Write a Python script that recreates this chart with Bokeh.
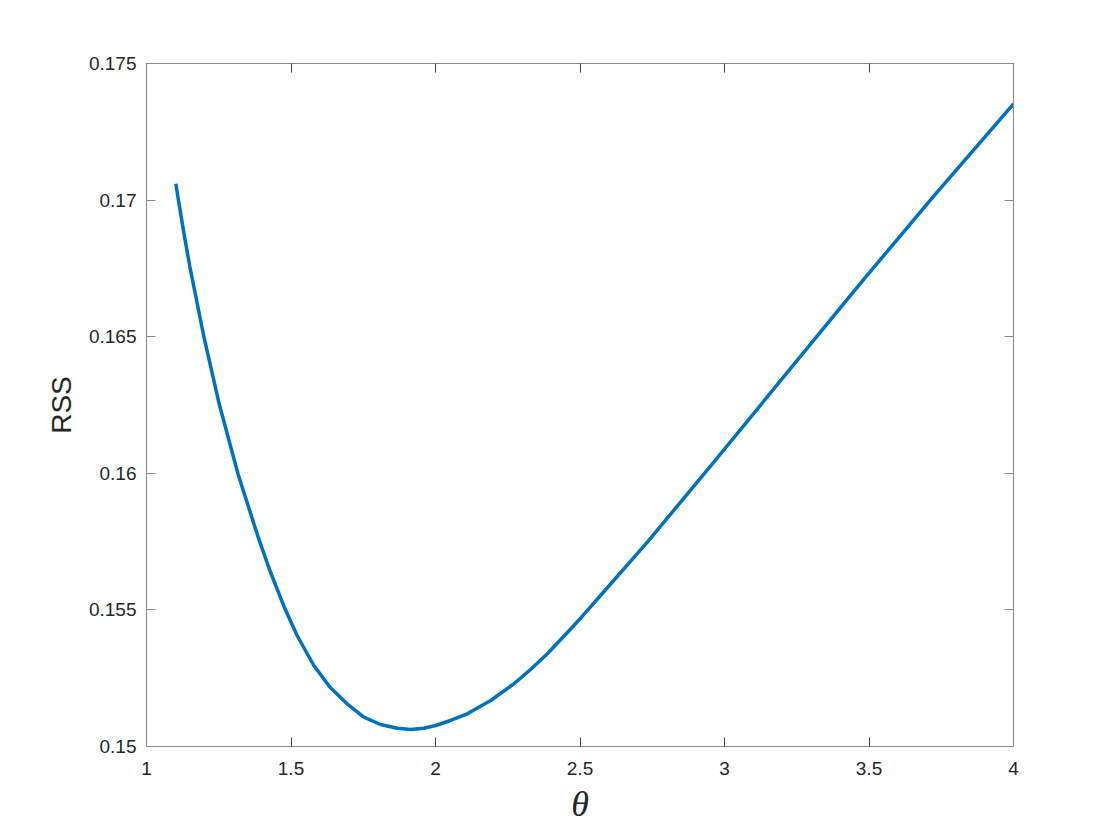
from bokeh.plotting import figure
from bokeh.models import Range1d, LinearAxis, FixedTicker
from bokeh.embed import file_html
from bokeh.resources import INLINE

# Data
theta = [1.1015, 1.1101, 1.1303, 1.1499, 1.1984, 1.2514, 1.3172, 1.3864, 1.4268,
         1.4787, 1.5210, 1.5790, 1.6367, 1.6940, 1.7520, 1.8100, 1.8677, 1.9130,
         1.9596, 2.0010, 2.0519, 2.1100, 2.1910, 2.2710, 2.3290, 2.3870, 2.4790,
         2.5020, 2.5710, 2.7330, 2.9630, 3.1940, 3.4240, 3.4940, 3.7240, 4.0000]
rss = [0.170595, 0.170022, 0.168737, 0.167567, 0.165007, 0.162543, 0.159956,
       0.157662, 0.156442, 0.155050, 0.154063, 0.152965, 0.152147, 0.151563,
       0.151074, 0.150805, 0.150671, 0.150622, 0.150671, 0.150768, 0.150952,
       0.151197, 0.151684, 0.152295, 0.152818, 0.153393, 0.154429, 0.154700,
       0.155527, 0.157478, 0.160410, 0.163390, 0.166360, 0.167250, 0.170150,
       0.173524]

x_ticks = [1, 1.5, 2, 2.5, 3, 3.5, 4]
x_tick_labels = ["1", "1.5", "2", "2.5", "3", "3.5", "4"]
y_ticks = [0.15, 0.155, 0.16, 0.165, 0.17, 0.175]
y_tick_labels = ["0.15", "0.155", "0.16", "0.165", "0.17", "0.175"]

W, H = 1104, 832
p = figure(width=W, height=H, output_backend="svg", toolbar_location=None,
           x_range=Range1d(1, 4), y_range=Range1d(0.15, 0.175),
           min_border_left=146, min_border_right=W - 1013,
           min_border_top=63, min_border_bottom=H - 746,
           x_axis_label="θ", y_axis_label="RSS")
p.grid.visible = False
p.background_fill_color = "white"
p.border_fill_color = "white"
p.outline_line_color = "#8a8a8a"
p.outline_line_width = 1

p.line(theta, rss, line_color="#0072BD", line_width=3.5, line_join="round")

AX_COLOR = "#8a8a8a"
LABEL_COLOR = "#262626"

def style_axis(ax, ticks, labels, tick_color, show_labels):
    ax.ticker = FixedTicker(ticks=ticks)
    ax.major_label_overrides = {t: l for t, l in zip(ticks, labels)}
    ax.axis_line_color = AX_COLOR
    ax.major_tick_line_color = tick_color
    ax.major_tick_in = 9
    ax.major_tick_out = 0
    ax.minor_tick_line_color = None
    ax.major_label_text_font = "Liberation Sans"
    ax.major_label_text_font_size = "19px" if show_labels else "0px"
    ax.major_label_text_color = LABEL_COLOR
    if not show_labels:
        ax.major_label_text_alpha = 0

xa = p.xaxis[0]
style_axis(xa, x_ticks, x_tick_labels, "#404040", True)
xa.major_label_standoff = 15
xa.axis_label_text_font = "Liberation Serif"
xa.axis_label_text_font_style = "italic"
xa.axis_label_text_font_size = "36px"
xa.axis_label_text_color = LABEL_COLOR
xa.axis_label_standoff = 6

ya = p.yaxis[0]
style_axis(ya, y_ticks, y_tick_labels, AX_COLOR, True)
ya.major_label_standoff = 10
ya.axis_label_text_font = "Liberation Sans"
ya.axis_label_text_font_style = "normal"
ya.axis_label_text_font_size = "28px"
ya.axis_label_text_color = LABEL_COLOR
ya.axis_label_standoff = 9

top = LinearAxis()
style_axis(top, x_ticks, x_tick_labels, "#404040", False)
p.add_layout(top, "above")
right = LinearAxis()
style_axis(right, y_ticks, y_tick_labels, AX_COLOR, False)
p.add_layout(right, "right")

open("out.html", "w").write(file_html(p, INLINE))
